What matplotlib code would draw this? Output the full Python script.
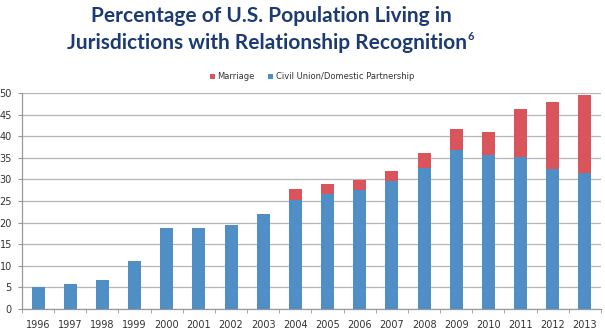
import matplotlib
matplotlib.use("Agg")
import matplotlib.pyplot as plt
import numpy as np

years = ["1996", "1997", "1998", "1999", "2000", "2001", "2002", "2003", "2004",
         "2005", "2006", "2007", "2008", "2009", "2010", "2011", "2012", "2013"]
civil_union = [5.0, 5.8, 6.7, 11.2, 18.7, 18.7, 19.4, 22.0, 25.3,
               26.6, 27.5, 29.6, 32.7, 36.9, 35.6, 35.2, 32.4, 31.4]
total = [5.0, 5.8, 6.7, 11.2, 18.7, 18.7, 19.4, 22.0, 27.7,
         28.9, 29.9, 31.9, 36.2, 41.6, 41.0, 46.4, 47.9, 49.6]
marriage = [t - c for t, c in zip(total, civil_union)]

blue = "#4f8fc5"
red = "#d9555b"
navy = "#1b3b72"

fig = plt.figure(figsize=(6.05, 3.32), dpi=100)
ax = fig.add_axes([22/605, 1-309/332, 579/605, 216/332])

x = np.arange(len(years))
ax.bar(x, civil_union, width=0.4, color=blue, zorder=3,
       label="Civil Union/Domestic Partnership")
ax.bar(x, marriage, width=0.4, bottom=civil_union, color=red, zorder=3,
       label="Marriage")

ax.set_xlim(-0.5, len(years) - 0.5)
ax.set_ylim(0, 50)
ax.set_yticks(np.arange(0, 51, 5))
ax.yaxis.grid(True, color="#b4b4b4", linewidth=0.9, zorder=0)
ax.set_xticks(x)
ax.set_xticklabels(years)
ax.set_xticks(np.arange(-0.5, len(years), 1), minor=True)
ax.tick_params(axis="x", which="major", length=0, pad=8, labelsize=7, colors="#333333")
ax.tick_params(axis="x", which="minor", length=3, color="#999999", direction="out")
ax.tick_params(axis="y", length=3, color="#999999", labelsize=7, pad=4.3, labelcolor="#333333")
for s in ["top", "right"]:
    ax.spines[s].set_visible(False)
for s in ["left", "bottom"]:
    ax.spines[s].set_color("#999999")
    ax.spines[s].set_linewidth(0.9)

handles, labels = ax.get_legend_handles_labels()
fig.legend(handles[::-1], labels[::-1], loc="center", bbox_to_anchor=(312/605, 1-77/332),
           ncol=2, frameon=False, fontsize=6.0, handlelength=0.6, handleheight=0.6,
           handletextpad=0.3, columnspacing=1.6, labelcolor="#333333")

fig.text(271/605, 1-16/332, "Percentage of U.S. Population Living in",
         ha="center", va="center", fontsize=15, fontweight="bold",
         color=navy, family="Lato")
t2 = fig.text(267/605, 1-43/332, "Jurisdictions with Relationship Recognition",
              ha="center", va="center", fontsize=15, fontweight="bold",
              color=navy, family="Lato")
fig.canvas.draw()
bb = t2.get_window_extent()
fig.text((bb.x1 + 1)/605, 1-37/332, "6", ha="left", va="center", fontsize=8,
         fontweight="bold", color=navy, family="Lato")

fig.savefig("out.png", dpi=100)
